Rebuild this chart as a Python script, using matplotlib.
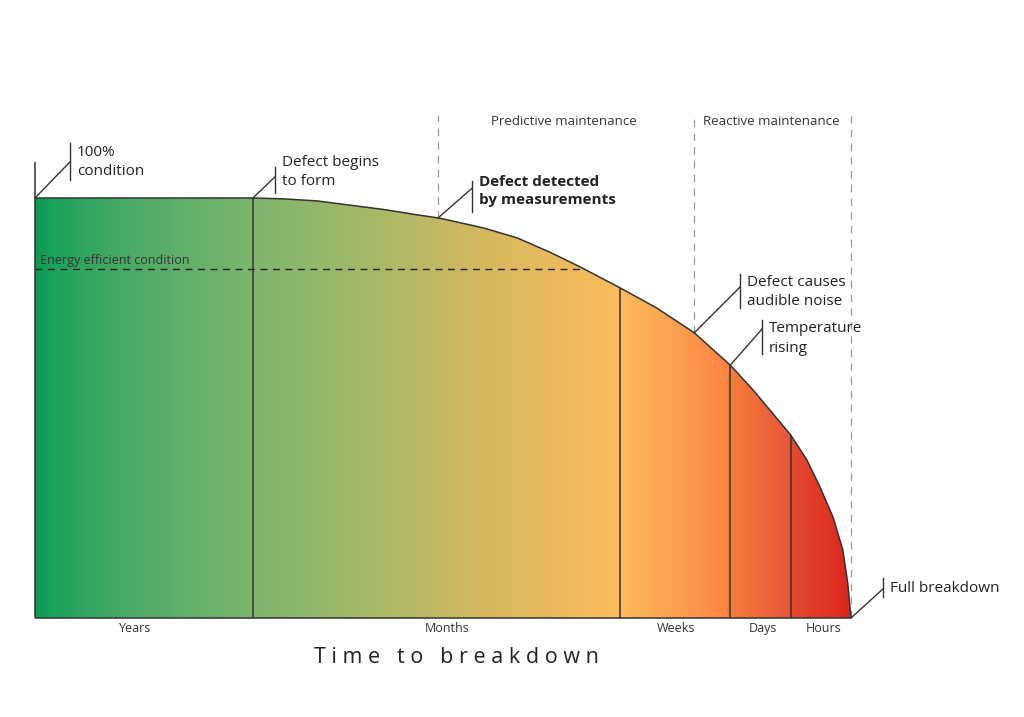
import numpy as np
import matplotlib.pyplot as plt
from matplotlib.colors import LinearSegmentedColormap

# Curve: time (0-100) vs condition (0-100 %)
TIME = [0, 26.7, 30.4, 34.6, 38.6, 42.6, 46.8, 49.6, 54.9, 59.1, 63.1, 66.8,
        71.7, 76.2, 80.8, 85.2, 88.0, 90.1, 92.6, 94.6, 96.2, 97.8, 99.0,
        99.6, 100]
CONDITION = [100, 100, 99.8, 99.3, 98.3, 97.3, 96.0, 95.2, 92.9, 90.5, 87.1,
             83.6, 78.6, 73.8, 67.9, 60.2, 54.3, 49.4, 43.6, 37.6, 31.2, 24.0,
             16.2, 8.3, 0]

# Period boundaries and labels
BOUNDS = [26.7, 71.7, 85.2, 92.6]
PERIODS = ['Years', 'Months', 'Weeks', 'Days', 'Hours']
PERIOD_X = [12.3, 50.5, 78.6, 89.2, 96.7]
ENERGY_LEVEL = 83.1
ENERGY_END = 67.2
PHASE_LINES = [49.4, 80.8, 100]
PHASES = ['Predictive maintenance', 'Reactive maintenance']
PHASE_X = [64.8, 90.2]

FONT = ['Open Sans', 'DejaVu Sans']
TXT = '#333333'

fig = plt.figure(figsize=(10.24, 7.17), dpi=100)
# axes box: time 0..100 -> px 35..851, condition 0..100 -> px 618..198
ax = fig.add_axes([35 / 1024, 99 / 717, 816 / 1024, 420 / 717])
ax.set_xlim(0, 100)
ax.set_ylim(0, 100)
ax.axis('off')

# gradient fill clipped to area under the curve
stops = [(0.0, '#0e9a56'), (0.02, '#1aa35d'), (0.1, '#46a965'),
         (0.267, '#7db66d'), (0.45, '#b2b966'), (0.55, '#d5b85e'),
         (0.717, '#fdbc5c'), (0.85, '#fb8544'), (0.86, '#f57a3a'),
         (0.925, '#e9573a'), (0.93, '#e54a30'), (1.0, '#dc261e')]
cmap = LinearSegmentedColormap.from_list('wear', stops)
grad = np.linspace(0, 1, 800).reshape(1, -1)
img = ax.imshow(grad, cmap=cmap, extent=[0, 100, 0, 100], aspect='auto',
                origin='lower', zorder=1)
poly = ax.fill_between(TIME, CONDITION, 0, facecolor='none', edgecolor='none')
img.set_clip_path(poly.get_paths()[0], transform=ax.transData)

line_kw = dict(color=TXT, lw=1.1, solid_capstyle='butt', zorder=3,
               clip_on=False)
ax.plot(TIME, CONDITION, solid_joinstyle='round', **line_kw)
ax.plot([0, 100], [0, 0], **line_kw)
ax.plot([0, 0], [0, 108.6], **line_kw)
for b in BOUNDS:
    ax.plot([b, b], [0, np.interp(b, TIME, CONDITION)], **line_kw)

# energy efficient level
ax.plot([0, ENERGY_END], [ENERGY_LEVEL, ENERGY_LEVEL], color='#222222',
        lw=1, dashes=(5, 4), zorder=3)
ax.text(0.6, ENERGY_LEVEL + 0.5, 'Energy efficient condition', fontsize=9,
        color=TXT, family=FONT, va='bottom', ha='left', zorder=4)

# maintenance phase separators
for p in PHASE_LINES:
    ax.plot([p, p], [np.interp(p, TIME, CONDITION), 119.8], color='#9a9a9a',
            lw=0.9, dashes=(6, 5), zorder=2, clip_on=False)
for name, x in zip(PHASES, PHASE_X):
    ax.text(x, 118.3, name, fontsize=9.5, color=TXT, family=FONT,
            ha='center', va='center')

# period labels under the axis
for name, x in zip(PERIODS, PERIOD_X):
    ax.text(x, -2.5, name, fontsize=9, color=TXT, family=FONT,
            ha='center', va='center')
ax.text(51.7, -9.3, 'T i m e   t o   b r e a k d o w n', fontsize=15.5,
        color='#222222', family=FONT, ha='center', va='center')

# callouts: anchor x, label, bar x, elbow y, bar bottom, bar top, text y
callouts = [
    (0.0, '100%\ncondition', 4.29, 108.6, 104.3, 113.1, 108.6, 'normal'),
    (26.7, 'Defect begins\nto form', 29.4, 105.0, 101.2, 107.4, 106.2,
     'normal'),
    (49.4, 'Defect detected\nby measurements', 53.6, 102.4, 96.7, 104.0,
     101.7, 'bold'),
    (80.8, 'Defect causes\naudible noise', 86.4, 78.8, 73.8, 81.9, 77.6,
     'normal'),
    (85.2, 'Temperature\nrising', 89.1, 68.8, 62.9, 70.9, 66.5, 'normal'),
    (100.0, 'Full breakdown', 103.9, 6.9, 5.0, 9.5, 7.0, 'normal'),
]
for x0, label, xb, ye, yb0, yb1, yt, weight in callouts:
    y0 = np.interp(x0, TIME, CONDITION)
    ax.plot([x0, xb], [y0, ye], color=TXT, lw=1, clip_on=False, zorder=3)
    ax.plot([xb, xb], [yb0, yb1], color=TXT, lw=1, clip_on=False, zorder=3)
    ax.text(xb + 0.85, yt, label, fontsize=11, color='#222222',
            family=FONT, fontweight=weight, ha='left', va='center',
            linespacing=1.4)

fig.savefig('out.png', dpi=100, facecolor='white')
